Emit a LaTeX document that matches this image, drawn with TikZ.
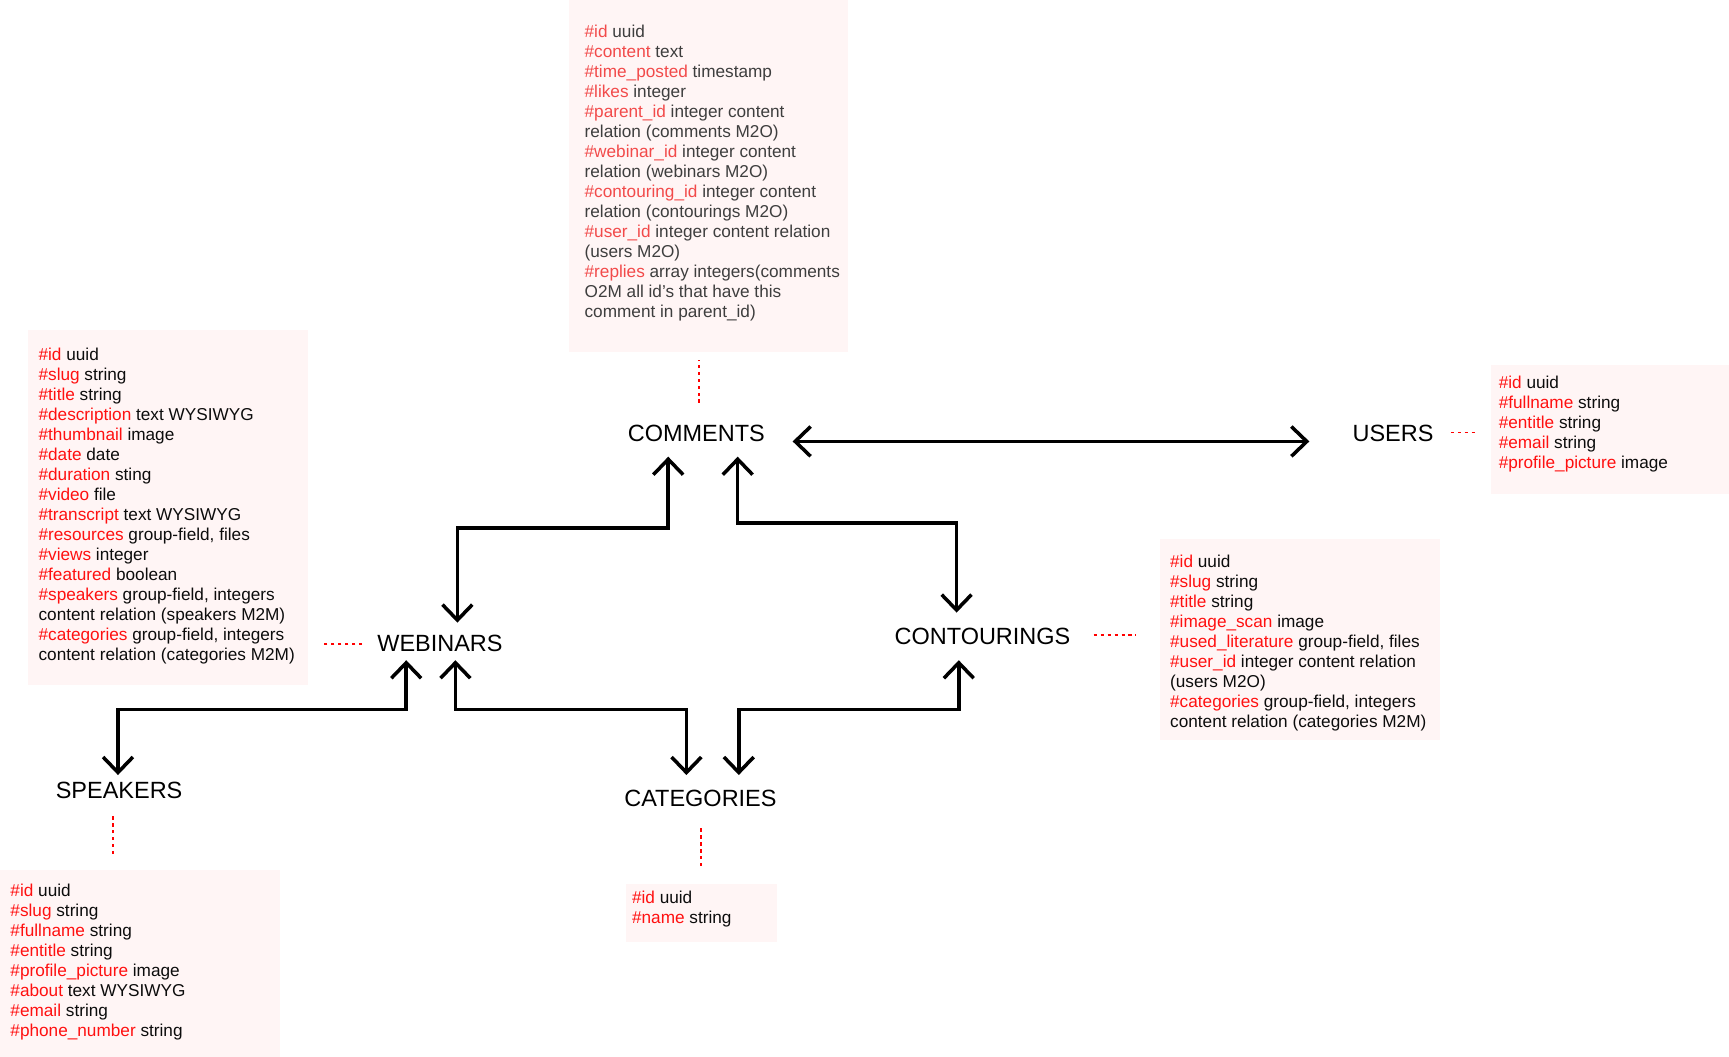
\documentclass[tikz,border=0pt]{standalone}
\usepackage{fontspec}
\setmainfont{Liberation Sans}
\usepackage{tikz}
\usetikzlibrary{arrows.meta,calc}

\definecolor{boxpink}{RGB}{255,245,245}
\definecolor{fieldred}{RGB}{255,16,16}
\definecolor{fieldblack}{RGB}{12,12,12}
\definecolor{commentred}{RGB}{242,74,74}
\definecolor{commentgray}{RGB}{62,62,62}

\newcommand{\fld}[2]{\textcolor{fieldred}{\##1} #2}
\newcommand{\cfld}[2]{\textcolor{commentred}{\##1} #2}

\tikzset{
    entity/.style={inner sep=0pt, text=black, font=\fontsize{21.3}{25}\selectfont},
    tbl/.style={fill=boxpink, inner sep=0pt, anchor=north west},
    fields/.style={inner sep=0pt, anchor=north west, align=left, text=fieldblack, font=\fontsize{15.6}{18.14}\selectfont},
    link/.style={line width=3.2pt, {Straight Barb[length=14pt,width=27pt]}-{Straight Barb[length=14pt,width=27pt]}},
    tie/.style={draw=red, line width=1.4pt, dash pattern=on 3pt off 3.3pt}
}

\begin{document}
\begin{tikzpicture}[x=1pt,y=-1pt]
            \useasboundingbox (0,0) rectangle (1568,958);

            \node[tbl, minimum width=253.5pt, minimum height=319pt] (combox) at (515.5,0) {};
            \node[tbl, minimum width=253.5pt, minimum height=322pt] (webbox) at (25.5,299.3) {};
            \node[tbl, minimum width=216.4pt, minimum height=117pt] (userbox) at (1351.6,330.4) {};
            \node[tbl, minimum width=253.8pt, minimum height=182.3pt] (contbox) at (1052,488.3) {};
            \node[tbl, minimum width=253.5pt, minimum height=169pt] (speakbox) at (0,789) {};
            \node[tbl, minimum width=136.4pt, minimum height=52.2pt] (catbox) at (567.6,801.8) {};

            \node[fields, text=commentgray] (comtext) at ($(combox.north west)+(14.5,22.3)$) {
                \cfld{id}{uuid}\\
                \cfld{content}{text}\\
                \cfld{time\_posted}{timestamp}\\
                \cfld{likes}{integer}\\
                \cfld{parent\_id}{integer content}\\
                relation (comments M2O)\\
                \cfld{webinar\_id}{integer content}\\
                relation (webinars M2O)\\
                \cfld{contouring\_id}{integer content}\\
                relation (contourings M2O)\\
                \cfld{user\_id}{integer content relation}\\
                (users M2O)\\
                \cfld{replies}{array integers(comments}\\
                O2M all id’s that have this\\
                comment in parent\_id)};
            \node[fields] (webtext) at ($(webbox.north west)+(9.3,16.1)$) {
                \fld{id}{uuid}\\
                \fld{slug}{string}\\
                \fld{title}{string}\\
                \fld{description}{text WYSIWYG}\\
                \fld{thumbnail}{image}\\
                \fld{date}{date}\\
                \fld{duration}{sting}\\
                \fld{video}{file}\\
                \fld{transcript}{text WYSIWYG}\\
                \fld{resources}{group-field, files}\\
                \fld{views}{integer}\\
                \fld{featured}{boolean}\\
                \fld{speakers}{group-field, integers}\\
                content relation (speakers M2M)\\
                \fld{categories}{group-field, integers}\\
                content relation (categories M2M)};
            \node[fields] (usertext) at ($(userbox.north west)+(7.4,10.6)$) {
                \fld{id}{uuid}\\
                \fld{fullname}{string}\\
                \fld{entitle}{string}\\
                \fld{email}{string}\\
                \fld{profile\_picture}{image}};
            \node[fields] (conttext) at ($(contbox.north west)+(9,14.5)$) {
                \fld{id}{uuid}\\
                \fld{slug}{string}\\
                \fld{title}{string}\\
                \fld{image\_scan}{image}\\
                \fld{used\_literature}{group-field, files}\\
                \fld{user\_id}{integer content relation}\\
                (users M2O)\\
                \fld{categories}{group-field, integers}\\
                content relation (categories M2M)};
            \node[fields] (speaktext) at ($(speakbox.north west)+(9.3,12.4)$) {
                \fld{id}{uuid}\\
                \fld{slug}{string}\\
                \fld{fullname}{string}\\
                \fld{entitle}{string}\\
                \fld{profile\_picture}{image}\\
                \fld{about}{text WYSIWYG}\\
                \fld{email}{string}\\
                \fld{phone\_number}{string}};
            \node[fields] (cattext) at ($(catbox.north west)+(5.4,6.3)$) {
                \fld{id}{uuid}\\
                \fld{name}{string}};

            \node[entity] (comments) at (631.5,393) {COMMENTS};
            \node[entity] (users) at (1263.3,393) {USERS};
            \node[entity] (webinars) at (399,583.5) {WEBINARS};
            \node[entity] (contourings) at (891,577.5) {CONTOURINGS};
            \node[entity] (speakers) at (108,716.5) {SPEAKERS};
            \node[entity] (categories) at (635.2,724.5) {CATEGORIES};

            \draw[link] ($(comments.base east)+(25,0)$) -- ($(users.base west)+(-39,0)$);
            \draw[link] ($(comments.south)+(-25.5,13.4)$) -- ++(0,64.6) -| ($(webinars.north)+(15.8,-11.1)$);
            \draw[link] ($(comments.south)+(37.5,13.4)$) -- ++(0,60) -| ($(contourings.north)+(-23.5,-14.2)$);
            \draw[link] ($(webinars.south)+(-30.6,7.5)$) -- ++(0,44.8) -| ($(speakers.north)+(-1,-5.9)$);
            \draw[link] ($(webinars.south)+(14,7.5)$) -- ++(0,44.8) -| ($(categories.north)+(-12.7,-13.9)$);
            \draw[link] ($(contourings.south)+(-21.5,13.5)$) -- ++(0,44.8) -| ($(categories.north)+(34.8,-13.9)$);

            \draw[tie] ($(comments.north)+(2.5,-20)$) -- ($(combox.south -| comments.north)+(2.5,7.5)$);
            \draw[tie] ($(users.east)+(15.5,-0.6)$) -- ($(userbox.west |- users.east)+(-13,-0.6)$);
            \draw[tie] ($(webinars.west)+(-13.5,0.5)$) -- ($(webbox.east |- webinars.west)+(13,0.5)$);
            \draw[tie] ($(contourings.east)+(21,-1.5)$) -- ($(contbox.west |- contourings.east)+(-22,-1.5)$);
            \draw[tie] ($(speakers.south)+(-5.7,16)$) -- ($(speakbox.north -| speakers.south)+(-5.7,-11.4)$);
            \draw[tie] ($(categories.south)+(0.6,19)$) -- ($(catbox.north -| categories.south)+(0.6,-12.8)$);
        \end{tikzpicture}
\end{document}
